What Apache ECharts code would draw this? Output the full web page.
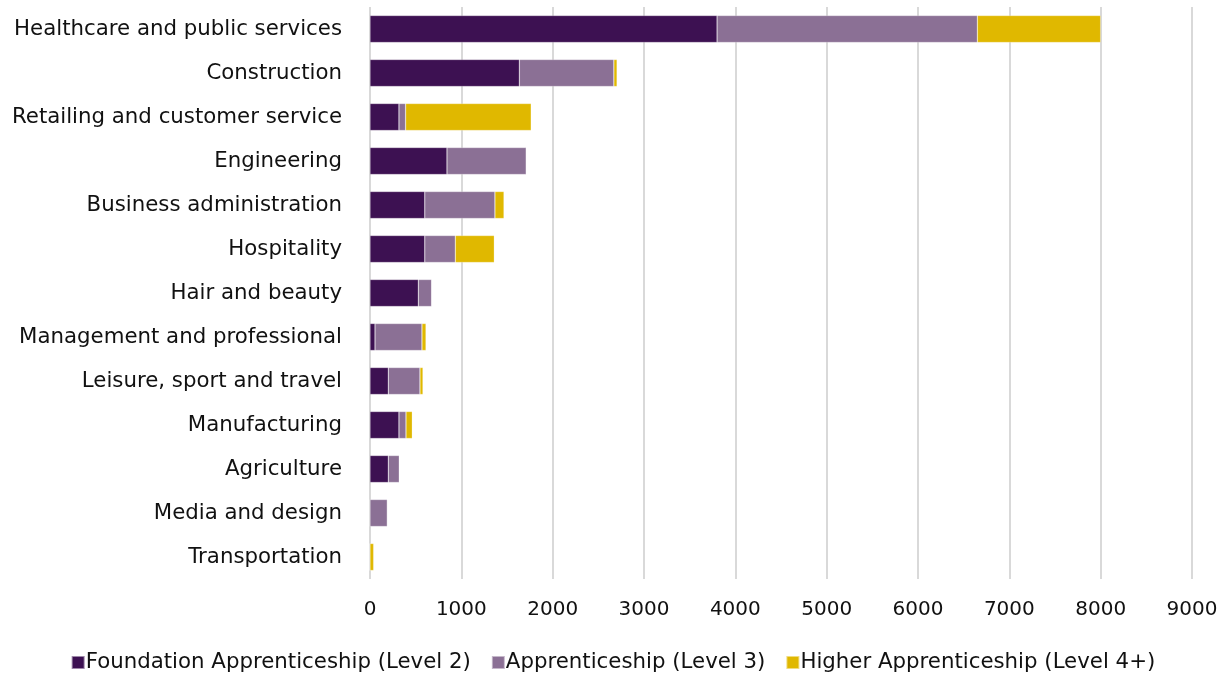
<!DOCTYPE html>
<html><head><meta charset="utf-8">
<script src="https://cdn.jsdelivr.net/npm/echarts@6/dist/echarts.min.js"></script>
<style>html,body{margin:0;padding:0;background:#fff}#c{width:1226px;height:677px}</style>
</head><body><div id="c"></div>
<script>
const categories = ["Healthcare and public services","Construction","Retailing and customer service","Engineering","Business administration","Hospitality","Hair and beauty","Management and professional","Leisure, sport and travel","Manufacturing","Agriculture","Media and design","Transportation"];
const level2 = [3800,1635,317,843,600,600,529,55,200,317,200,0,0];
const level3 = [2850,1035,73,868,768,334,146,514,347,77,120,190,0];
const level4 = [1350,35,1375,0,99,427,0,44,33,69,5,0,40];
const seriesNames = ["Foundation Apprenticeship (Level 2)","Apprenticeship (Level 3)","Higher Apprenticeship (Level 4+)"];
const colors = ["#3d1152","#8b7095","#e0b800"];
const font = "'DejaVu Sans', sans-serif";
const chart = echarts.init(document.getElementById('c'));
const mk = (name, data, i) => ({
  name, type:'bar', stack:'t', data, barWidth:27,
  itemStyle:{color:colors[i], borderColor:'rgba(255,255,255,0.5)', borderWidth:0.5},
  emphasis:{disabled:true}
});
chart.setOption({
  animation:false,
  textStyle:{fontFamily:font},
  grid:{left:370,right:34,top:7,bottom:98,containLabel:false},
  xAxis:{type:'value',min:0,max:9000,interval:1000,
    axisLine:{show:false},axisTick:{show:false},
    axisLabel:{fontSize:20,color:'#111',margin:21,fontFamily:font,formatter:v=>String(v)},
    splitLine:{lineStyle:{color:'#d9d9d9',width:2}}},
  yAxis:{type:'category',data:categories,inverse:true,
    axisLine:{show:false},axisTick:{show:false},
    axisLabel:{fontSize:21.3,color:'#111',margin:28,fontFamily:font}},
  legend:{top:647,left:'center',itemWidth:13,itemHeight:13,itemGap:20,icon:'rect',
    textStyle:{fontSize:21.3,color:'#111',fontFamily:font,padding:[0,0,0,-4]},
    data:seriesNames},
  series:[mk(seriesNames[0],level2,0),mk(seriesNames[1],level3,1),mk(seriesNames[2],level4,2)]
});
</script></body></html>
